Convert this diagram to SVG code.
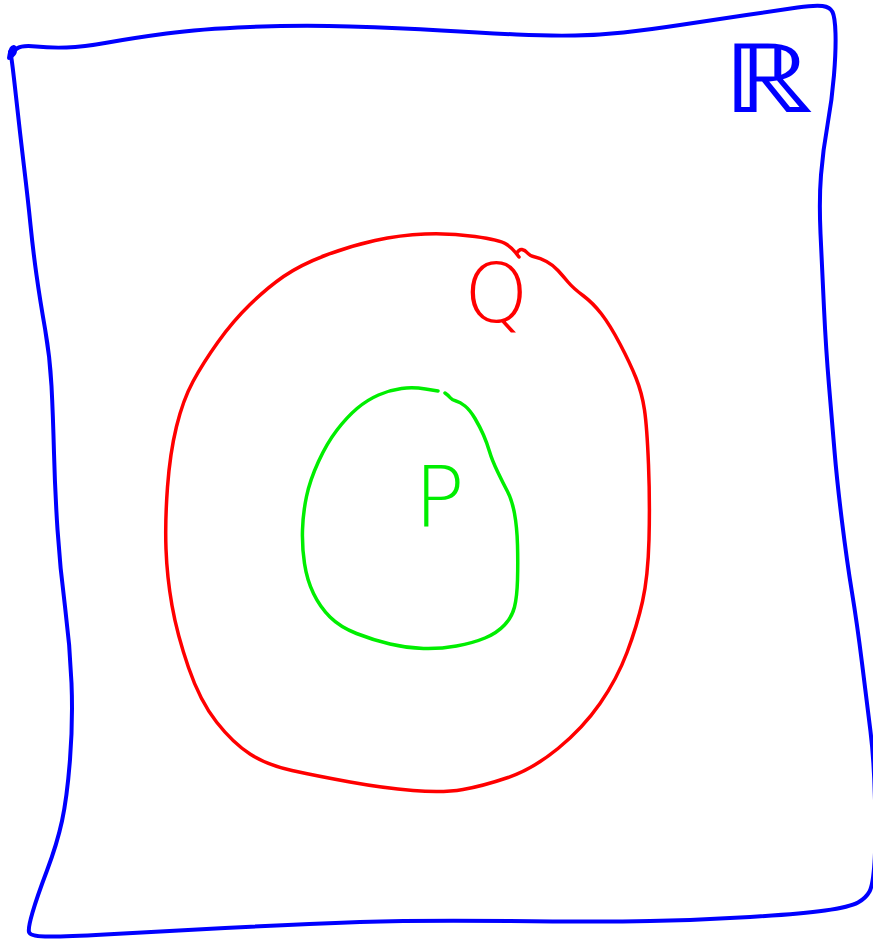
<svg xmlns="http://www.w3.org/2000/svg" width="873" height="940" viewBox="0 0 873 940">
<style>
.stroke{fill:none;stroke-linecap:round;stroke-linejoin:round}
.blue{stroke:#0000ff;stroke-width:4}
.red{stroke:#ff0000;stroke-width:3.5}
.green{stroke:#00ee00;stroke-width:3.5}
.lbl{font-family:"DejaVu Sans","Liberation Sans",sans-serif;font-weight:200}
</style>
<rect width="873" height="940" fill="#ffffff"/>
<g id="R-space">
<path class="stroke blue" d="M12,52 L17,48.5 Q22,45 36,46.5 Q50,48 66.5,47.5 Q83,47 108,42.5 Q133,38 166.5,33.5 Q200,29 250,27 Q300,25 350,26.5 Q400,28 441.5,30.5 Q483,33 516.5,34.5 Q550,36 575,35.5 Q600,35 623.5,32.5 Q647,30 680,25 Q713,20 746.5,15 Q780,10 797.5,7.5 Q815,5 822.5,6 Q830,7 832.5,12 Q835,17 835.5,33.5 Q836,50 834,75 Q832,100 827.5,125 Q823,150 821,175 Q819,200 820.5,233.5 Q822,267 824,308.5 Q826,350 829,385.5 Q832,421 834.5,451 Q837,481 842,521.5 Q847,562 852,592.5 Q857,623 862,663 Q867,703 870.5,731.5 Q874,760 875,800 Q876,840 874.5,862.5 Q873,885 869.5,891.5 Q866,898 858,902.5 Q850,907 825,910.5 Q800,914 750,917 Q700,920 650,921 Q600,922 510,921 Q420,920 360,922 Q300,924 225,928 Q150,932 105,934.5 Q60,937 45,936.5 Q30,936 29,932 Q28,928 32.5,912.5 Q37,897 47,870.5 Q57,844 62,821 Q67,798 70,759.5 Q73,721 71.5,683 Q70,645 65,606.5 Q60,568 57.5,529.5 Q55,491 54,453 Q53,415 51.5,386 Q50,357 45,328.5 Q40,300 36.5,275 Q33,250 30.5,225 Q28,200 24,166.5 Q20,133 16,96.5 Q12,60 11,56 L10,52"/>
<path class="stroke blue" d="M9,58 Q11,44 15,48 Q16,53 12,56"/>
<text class="lbl" x="722" y="112" font-size="96" fill="#0000ff" textLength="92" lengthAdjust="spacingAndGlyphs">ℝ</text>
</g>
<g id="Q-set">
<path class="stroke red" d="M519,257 L515.5,252.5 Q512,248 506,244 Q500,240 475,236.5 Q450,233 425,234 Q400,235 375,240.5 Q350,246 325,255.5 Q300,265 283.5,276.5 Q267,288 250,304.5 Q233,321 218,342 Q203,363 193,381.5 Q183,400 176.5,426.5 Q170,453 167.5,487 Q165,521 166,549 Q167,577 172,605.5 Q177,634 188.5,667.5 Q200,701 216.5,722 Q233,743 250,754 Q267,765 292,770.5 Q317,776 350,782 Q383,788 413,790.5 Q443,793 463,789.5 Q483,786 508,777.5 Q533,769 558,748.5 Q583,728 600,703.5 Q617,679 627,652.5 Q637,626 642.5,601.5 Q648,577 649,539.5 Q650,502 648.5,464.5 Q647,427 644.5,410 Q642,393 636,378 Q630,363 620,344 Q610,325 601.5,314 Q593,303 583,295.5 Q573,288 568,282 Q563,276 558,270.5 Q553,265 546.5,261.5 Q540,258 535,257 Q530,256 527.5,253 Q525,250 522,249.5 Q519,249 517,253"/>
<text class="lbl" x="464" y="322" font-size="82" fill="#ff0000">Q</text>
</g>
<g id="P-set">
<path class="stroke green" d="M438,391 L425.5,389 Q413,387 401.5,388.5 Q390,390 378.5,395 Q367,400 357,408.5 Q347,417 337,430 Q327,443 318.5,461.5 Q310,480 306.5,496.5 Q303,513 302.5,530 Q302,547 304.5,563.5 Q307,580 313.5,593.5 Q320,607 330,617 Q340,627 356.5,633.5 Q373,640 390,644 Q407,648 423.5,648.5 Q440,649 456.5,646 Q473,643 485,638 Q497,633 504.5,625 Q512,617 514.5,607 Q517,597 517.5,580 Q518,563 517.5,545 Q517,527 514.5,513.5 Q512,500 507.5,491.5 Q503,483 497.5,471.5 Q492,460 489.5,451.5 Q487,443 483.5,435 Q480,427 475,418.5 Q470,410 465,406 Q460,402 456,401 Q452,400 450,397.5 Q448,395 445,393"/>
<text class="lbl" x="414" y="526" font-size="84" fill="#00ee00">P</text>
</g>
<g id="connectors"/>
</svg>
